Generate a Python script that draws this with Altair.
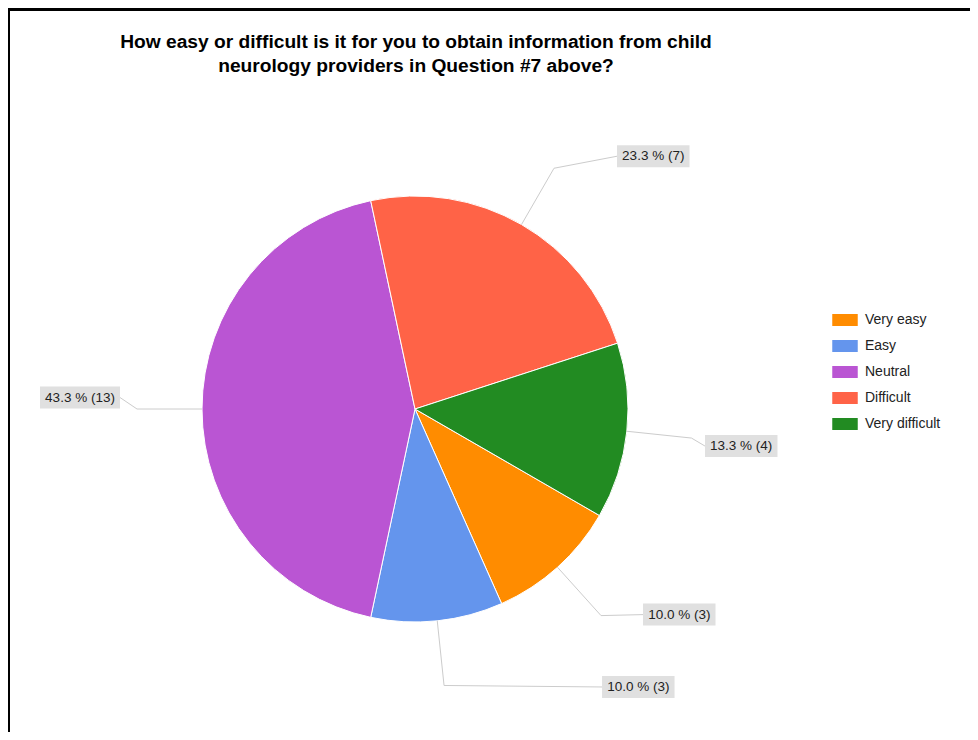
import math
import altair as alt
import pandas as pd

# ---- data ----
categories = ["Very easy", "Easy", "Neutral", "Difficult", "Very difficult"]
counts = [3, 3, 13, 7, 4]
percent_labels = ["10.0 % (3)", "10.0 % (3)", "43.3 % (13)", "23.3 % (7)", "13.3 % (4)"]
colors = ["#FF8C00", "#6495ED", "#BA55D3", "#FF6347", "#228B22"]
title_lines = [
    "How easy or difficult is it for you to obtain information from child",
    "neurology providers in Question #7 above?",
]

# ---- layout (styling, not data) ----
W, H = 962, 724
CX, CY = 407, 401
R = 213
R_ELBOW = 278
START = math.radians(120)
nudge_x = [42, 158, 17, 63, 13.5]
nudge_y = [-1, 1.5, -11.5, -12, 8]
FONT = "Liberation Sans, Arial, sans-serif"

df = pd.DataFrame({
    "category": categories,
    "count": counts,
    "label": percent_labels,
    "order": list(range(len(categories))),
    "nx": nudge_x,
    "ny": nudge_y,
})

base = (
    alt.Chart(df)
    .transform_window(cum="sum(count)", sort=[alt.SortField("order")])
    .transform_joinaggregate(total="sum(count)")
    .transform_calculate(ang=f"{START} + 2*PI*(datum.cum - datum.count/2)/datum.total")
    .transform_calculate(
        ex=f"{CX} + {R}*sin(datum.ang)",
        ey=f"{CY} - {R}*cos(datum.ang)",
        bx=f"{CX} + {R_ELBOW}*sin(datum.ang)",
        by=f"{CY} - {R_ELBOW}*cos(datum.ang)",
        side="sin(datum.ang) >= 0 ? 1 : -1",
        bw="7.5*length(datum.label) - 2.5",
    )
    .transform_calculate(
        lx="datum.bx + datum.side*datum.nx",
        ly="datum.by + datum.ny",
    )
    .transform_calculate(
        x1="datum.side > 0 ? datum.lx : datum.lx - datum.bw",
        yt="datum.ly - 11",
        yb="datum.ly + 11",
    )
    .transform_calculate(
        x2="datum.x1 + datum.bw",
        tx="datum.x1 + datum.bw/2",
    )
)

pie = base.mark_arc(radius=R, stroke="#ffffff", strokeWidth=1).encode(
    theta=alt.Theta("count:Q", stack=True, scale=alt.Scale(range=[START, START + 2 * math.pi])),
    color=alt.Color(
        "category:N",
        scale=alt.Scale(domain=categories, range=colors),
        legend=alt.Legend(
            title=None,
            orient="none",
            legendX=824,
            legendY=299,
            symbolType="M-1,-0.47L1,-0.47L1,0.47L-1,0.47Z",
            symbolSize=650,
            symbolStrokeWidth=0,
            labelFont=FONT,
            labelFontSize=14,
            labelColor="#222222",
            rowPadding=6,
            labelOffset=7,
            padding=0,
        ),
    ),
    order=alt.Order("order:Q"),
    x=alt.value(CX),
    y=alt.value(CY),
)

lead1 = base.mark_rule(color="#cccccc", strokeWidth=1).encode(
    x=alt.X("ex:Q", scale=None, axis=None),
    y=alt.Y("ey:Q", scale=None, axis=None),
    x2="bx:Q",
    y2="by:Q",
)
lead2 = base.mark_rule(color="#cccccc", strokeWidth=1).encode(
    x=alt.X("bx:Q", scale=None, axis=None),
    y=alt.Y("by:Q", scale=None, axis=None),
    x2="lx:Q",
    y2="ly:Q",
)
boxes = base.mark_rect(fill="#e0e0e0").encode(
    x=alt.X("x1:Q", scale=None, axis=None),
    x2="x2:Q",
    y=alt.Y("yt:Q", scale=None, axis=None),
    y2="yb:Q",
)
texts = base.mark_text(font=FONT, fontSize=13.5, color="#222222", align="center", baseline="middle").encode(
    x=alt.X("tx:Q", scale=None, axis=None),
    y=alt.Y("ly:Q", scale=None, axis=None),
    text="label:N",
)

one = pd.DataFrame({"k": [0]})
title = alt.Chart(one).mark_text(
    font=FONT, fontSize=19.2, fontWeight="bold", color="#000000",
    align="center", baseline="alphabetic", lineBreak="\n", lineHeight=24,
).encode(x=alt.value(408), y=alt.value(40), text=alt.value("\n".join(title_lines)))

border_top = alt.Chart(one).mark_rule(color="#000000", strokeWidth=3).encode(
    x=alt.value(0), x2=alt.value(W), y=alt.value(1.5)
)
border_left = alt.Chart(one).mark_rule(color="#000000", strokeWidth=3).encode(
    x=alt.value(0.5), y=alt.value(0), y2=alt.value(H)
)

chart = (
    alt.layer(pie, lead1, lead2, boxes, texts, title, border_top, border_left)
    .properties(width=W, height=H, autosize=alt.AutoSizeParams(type="none"), padding=0)
    .configure_view(strokeWidth=0)
)

chart.save("out.html", embed_options={"renderer": "svg", "actions": False})
